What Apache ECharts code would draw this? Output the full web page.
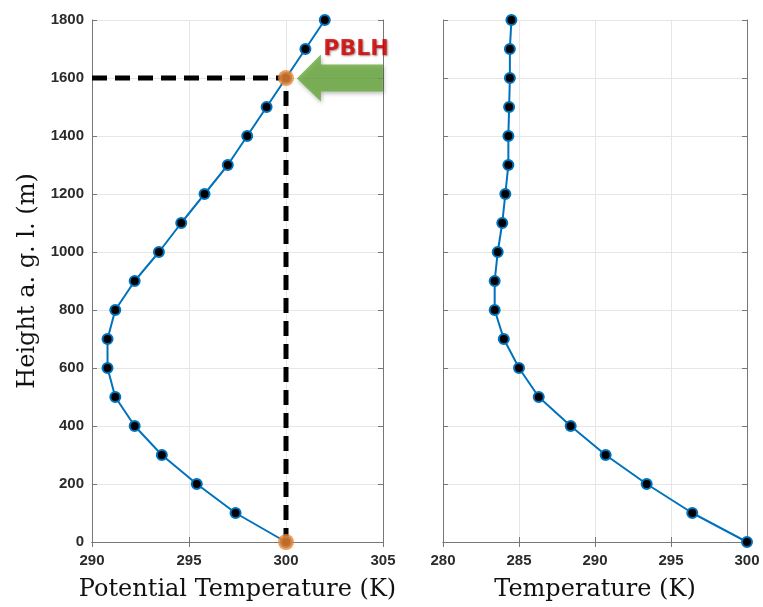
<!DOCTYPE html>
<html>
<head>
<meta charset="utf-8">
<script src="https://cdn.jsdelivr.net/npm/echarts@6/dist/echarts.min.js"></script>
<style>
  html, body { margin: 0; padding: 0; background: #fff; }
  #main { width: 763px; height: 607px; }
</style>
</head>
<body>
<div id="main"></div>
<script>
// heights (m) shared by both profiles
const heights = [0, 100, 200, 300, 400, 500, 600, 700, 800, 900, 1000, 1100, 1200, 1300, 1400, 1500, 1600, 1700, 1800]
const potentialTemp = [300.0, 297.4, 295.4, 293.6, 292.2, 291.2, 290.8, 290.8, 291.2, 292.2, 293.45, 294.6, 295.8, 297.0, 298.0, 299.0, 300.0, 301.0, 302.0]
const temperature = [300.0, 296.4, 293.4, 290.7, 288.4, 286.3, 285.0, 284.0, 283.4, 283.4, 283.6, 283.9, 284.1, 284.3, 284.3, 284.35, 284.4, 284.4, 284.5]
const pblhHeight = 1600
const surfaceTheta = 300
const arrowAt = [302.78, 1600] // centre of the PBLH arrow

const blue = '#0072BD'
const labelFont = { color: '#2b2b2b', fontSize: 15, fontWeight: 'bold', fontFamily: 'Liberation Sans' }
const nameFont = { color: '#111', fontSize: 24, fontFamily: 'DejaVu Serif' }

const toPairs = (xs) => xs.map((x, i) => [x, heights[i]])

function xAx(grid, min, max, name, pos) {
  const main = pos === 'bottom'
  return {
    type: 'value', gridIndex: grid, position: pos, min: min, max: max, interval: 5,
    name: main ? name : '', nameLocation: 'middle', nameGap: 36, nameTextStyle: nameFont,
    axisLine: { show: true, lineStyle: { color: '#777', width: 1 } },
    axisTick: { show: true, inside: true, length: 5, lineStyle: { color: '#777' } },
    axisLabel: Object.assign({ show: main, margin: 11 }, labelFont),
    splitLine: { show: main, lineStyle: { color: '#e6e6e6' } }
  }
}
function yAx(grid, pos, showLabels, name) {
  const main = pos === 'left'
  return {
    type: 'value', gridIndex: grid, position: pos, min: 0, max: 1800, interval: 200,
    name: name || '', nameLocation: 'middle', nameGap: 52, nameTextStyle: nameFont,
    axisLine: { show: true, lineStyle: { color: '#777', width: 1 } },
    axisTick: { show: true, inside: true, length: 5, lineStyle: { color: '#777' } },
    axisLabel: Object.assign({ show: showLabels, margin: 8, formatter: (v) => String(v) }, labelFont),
    splitLine: { show: main, lineStyle: { color: '#e6e6e6' } }
  }
}

const profileStyle = {
  type: 'line', clip: false, symbol: 'circle', symbolSize: 10,
  lineStyle: { color: blue, width: 2 },
  itemStyle: { color: '#000', borderColor: blue, borderWidth: 2 },
  z: 3
}

const myChart = echarts.init(document.getElementById('main'), null, { renderer: 'canvas' })
myChart.setOption({
  animation: false,
  grid: [
    { left: 92, top: 20, width: 291, height: 522 },
    { left: 443, top: 20, width: 304, height: 522 }
  ],
  xAxis: [
    xAx(0, 290, 305, 'Potential Temperature (K)', 'bottom'),
    xAx(1, 280, 300, 'Temperature (K)', 'bottom'),
    xAx(0, 290, 305, '', 'top'),
    xAx(1, 280, 300, '', 'top')
  ],
  yAxis: [
    yAx(0, 'left', true, 'Height a. g. l. (m)'),
    yAx(1, 'left', false),
    yAx(0, 'right', false),
    yAx(1, 'right', false)
  ],
  series: [
    {
      // PBLH guide lines
      type: 'line', xAxisIndex: 0, yAxisIndex: 0, symbol: 'none', clip: false,
      data: [[290, pblhHeight], [surfaceTheta, pblhHeight], [surfaceTheta, 0]],
      lineStyle: { color: '#000', width: 5, type: [15, 8] },
      z: 2
    },
    Object.assign({ xAxisIndex: 0, yAxisIndex: 0, data: toPairs(potentialTemp) }, profileStyle),
    Object.assign({ xAxisIndex: 1, yAxisIndex: 1, data: toPairs(temperature) }, profileStyle),
    {
      type: 'scatter', xAxisIndex: 0, yAxisIndex: 0, clip: false,
      symbolSize: 16,
      itemStyle: { color: '#F0842F' },
      data: [[surfaceTheta, pblhHeight], [surfaceTheta, 0]],
      z: 5
    },
    {
      // green arrow + label
      type: 'scatter', xAxisIndex: 0, yAxisIndex: 0, clip: false, silent: true,
      symbol: 'path://M0,24 L24,0 L24,10 L86,10 L86,37 L24,37 L24,47 Z',
      symbolSize: [86, 47],
      itemStyle: { color: '#68A93C', shadowColor: 'rgba(0,0,0,0.35)', shadowBlur: 4, shadowOffsetX: 1, shadowOffsetY: 2 },
      label: {
        show: true, position: 'inside', offset: [16, -29],
        formatter: 'PBLH', color: '#D10000', fontSize: 22, fontWeight: 'bold',
        fontFamily: 'DejaVu Sans', textShadowColor: 'rgba(60,0,0,0.6)', textShadowBlur: 2, textShadowOffsetX: 1, textShadowOffsetY: 1
      },
      data: [arrowAt],
      z: 6
    }
  ]
})
</script>
</body>
</html>
